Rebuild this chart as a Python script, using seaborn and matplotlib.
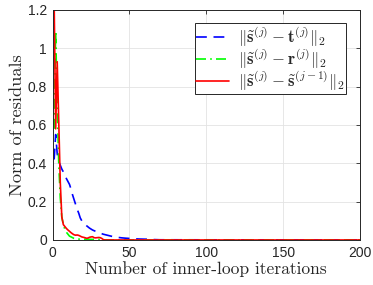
import numpy as np
import pandas as pd
import matplotlib
matplotlib.use("Agg")
import matplotlib.pyplot as plt
import seaborn as sns

# ---- data ----
blue_x = [1, 2, 3, 4, 5, 6, 7, 8, 9, 10, 11, 12, 13, 14, 15, 16, 17, 18, 19, 20,
          22, 24, 26, 28, 30, 33, 36, 39, 42, 45, 48, 52, 56, 61, 66, 70, 200]
blue_y = [0.42, 0.55, 0.45, 0.41, 0.39, 0.37, 0.355, 0.34, 0.32, 0.305, 0.29,
          0.265, 0.235, 0.21, 0.185, 0.16, 0.14, 0.115, 0.10, 0.09,
          0.075, 0.062, 0.052, 0.045, 0.038, 0.030, 0.024, 0.018, 0.014, 0.011,
          0.009, 0.007, 0.005, 0.004, 0.002, 0.001, 0.0]

green_x = [1, 2, 3, 4, 5, 6, 7, 8, 9, 10, 11, 12, 13, 14, 15, 16, 18, 22, 26, 30, 32, 200]
green_y = [0.58, 1.09, 0.70, 0.40, 0.22, 0.12, 0.08, 0.055, 0.04, 0.03, 0.02,
           0.016, 0.012, 0.008, 0.006, 0.005, 0.004, 0.004, 0.003, 0.003, 0.0, 0.0]

red_x = [1, 2, 3, 4, 5, 6, 7, 8, 9, 10, 11, 12, 13, 14, 15, 16, 17, 18, 19, 20,
         21, 22, 23, 24, 25, 26, 27, 28, 29, 30, 31, 32, 33, 34, 200]
red_y = [1.25, 0.58, 0.93, 0.62, 0.30, 0.12, 0.08, 0.07, 0.06, 0.052, 0.045,
         0.038, 0.032, 0.027, 0.025, 0.026, 0.024, 0.02, 0.016, 0.014, 0.012, 0.009,
         0.010, 0.014, 0.016, 0.017, 0.012, 0.011, 0.012, 0.013, 0.012, 0.008, 0.002, 0.0, 0.0]

labels = [r'$\|\tilde{\mathbf{s}}^{(j)}-\mathbf{t}^{(j)}\|_2$',
          r'$\|\tilde{\mathbf{s}}^{(j)}-\mathbf{r}^{(j)}\|_2$',
          r'$\|\tilde{\mathbf{s}}^{(j)}-\tilde{\mathbf{s}}^{(j-1)}\|_2$']
xticks = [0, 50, 100, 150, 200]
yticks = [0, 0.2, 0.4, 0.6, 0.8, 1.0, 1.2]
ytick_labels = ['0', '0.2', '0.4', '0.6', '0.8', '1', '1.2']

sns.set_theme(style="whitegrid")
plt.rcParams['font.family'] = ['Liberation Sans', 'DejaVu Sans']
plt.rcParams['mathtext.fontset'] = 'cm'

fig = plt.figure(figsize=(3.73, 2.85), dpi=100)
ax = fig.add_axes([0.141, 0.158, 0.824, 0.807])

df_b = pd.DataFrame({'x': blue_x, 'y': blue_y})
df_g = pd.DataFrame({'x': green_x, 'y': green_y})
df_r = pd.DataFrame({'x': red_x, 'y': red_y})

sns.lineplot(data=df_b, x='x', y='y', ax=ax, color=(0, 0, 1), lw=1.2,
             linestyle=(0, (6.5, 4)), label=labels[0])
sns.lineplot(data=df_g, x='x', y='y', ax=ax, color=(0, 1, 0), lw=1.2,
             linestyle=(0, (6, 2.5, 1, 2.5)), label=labels[1])
sns.lineplot(data=df_r, x='x', y='y', ax=ax, color=(1, 0, 0), lw=1.2,
             linestyle='-', label=labels[2])

ax.set_xlim(0, 200)
ax.set_ylim(0, 1.2)
ax.set_xticks(xticks)
ax.set_yticks(yticks)
ax.set_yticklabels(ytick_labels)
ax.tick_params(axis='both', labelsize=10, colors='#262626', direction='in',
               length=3, width=0.6, top=True, right=True, pad=4)
ax.grid(True, color='#e3e3e3', lw=0.6)
ax.set_facecolor('white')
for s in ax.spines.values():
    s.set_visible(True)
    s.set_color('#262626')
    s.set_linewidth(0.7)

ax.set_xlabel('Number of inner-loop iterations', fontfamily='cmr10', fontsize=12.6,
              color='#262626', labelpad=1)
ax.set_ylabel('Norm of residuals', fontfamily='cmr10', fontsize=13.2,
              color='#262626', labelpad=2)

leg = ax.legend(loc='upper right', bbox_to_anchor=(0.954, 0.943), fontsize=12,
                frameon=True, fancybox=False, handlelength=2.0, handletextpad=0.5,
                borderpad=0.08, labelspacing=-0.12, borderaxespad=0)
leg.get_frame().set_edgecolor('#262626')
leg.get_frame().set_linewidth(0.7)
leg.get_frame().set_alpha(1)

fig.savefig('out.png', dpi=100)
